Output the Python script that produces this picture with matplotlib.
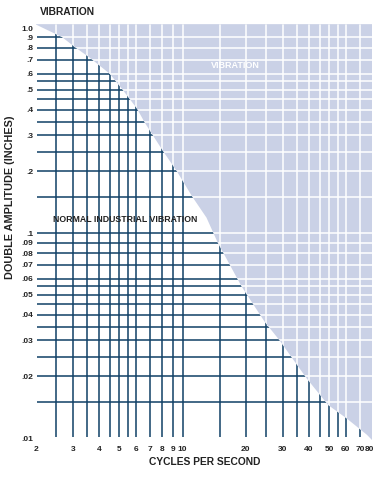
import matplotlib
matplotlib.use("Agg")
import matplotlib.pyplot as plt
from matplotlib.patches import Polygon
from matplotlib.transforms import offset_copy

plt.rcParams["font.family"] = ["Liberation Sans", "DejaVu Sans"]

NAVY = "#0f4066"
SHADE = "#cad1e6"
TEXT = "#222222"

# grid positions
x_grid = [2.5, 3, 3.5, 4, 4.5, 5, 5.5, 6, 7, 8, 9, 10, 15, 20, 25, 30, 35, 40, 45, 50, 55, 60, 70]
y_grid = [0.9, 0.8, 0.7, 0.6, 0.55, 0.5, 0.45, 0.4, 0.35, 0.3, 0.25, 0.2, 0.15,
          0.1, 0.09, 0.08, 0.07, 0.06, 0.055, 0.05, 0.045, 0.04, 0.035, 0.03, 0.025, 0.02, 0.015]

x_ticks = [2, 3, 4, 5, 6, 7, 8, 9, 10, 20, 30, 40, 50, 60, 70, 80]
x_ticklabels = ["2", "3", "4", "5", "6", "7", "8", "9", "10", "20", "30", "40", "50", "60", "70", "80"]
y_ticks = [1.0, 0.9, 0.8, 0.7, 0.6, 0.5, 0.4, 0.3, 0.2, 0.1, 0.09, 0.08, 0.07, 0.06, 0.05, 0.04, 0.03, 0.02, 0.01]
y_ticklabels = ["1.0", ".9", ".8", ".7", ".6", ".5", ".4", ".3", ".2", ".1", ".09", ".08", ".07", ".06",
                ".05", ".04", ".03", ".02", ".01"]

# boundary between normal and vibration zone
limit_freq = [2.0, 2.66, 3.06, 3.62, 4.5, 5.18, 6.06, 6.6, 8.03, 9.4, 11.1, 13.0, 14.7, 19.1,
              24.6, 29.0, 39.0, 49.5, 60.5, 75.6, 80.0]
limit_amp = [1.04, 0.904, 0.809, 0.715, 0.598, 0.50, 0.405, 0.346, 0.253, 0.200, 0.151, 0.119,
             0.090, 0.055, 0.037, 0.030, 0.0196, 0.0145, 0.0125, 0.0104, 0.0098]

XMIN, XMAX = 2, 80
YMIN, YMAX = 0.0098, 1.045

fig = plt.figure(figsize=(3.75, 4.83), dpi=100)
ax = fig.add_axes([0.096, 0.089, 0.896, 0.861])
ax.set_xscale("log")
ax.set_yscale("log")
ax.set_xlim(XMIN, XMAX)
ax.set_ylim(YMIN, YMAX)

# navy grid everywhere
ax.vlines(x_grid, 0.0101, YMAX, color=NAVY, lw=1.1, zorder=1)
ax.hlines(y_grid, XMIN * 1.01, XMAX, color=NAVY, lw=1.1, zorder=1)

# shaded vibration zone
verts = list(zip(limit_freq, limit_amp)) + [(XMAX, YMAX), (XMIN, YMAX)]
zone = Polygon(verts, closed=True, facecolor=SHADE, edgecolor="none", zorder=2)
ax.add_patch(zone)

# white grid inside the zone
vw = ax.vlines(x_grid, YMIN, YMAX, color="white", lw=1.1, zorder=3)
hw = ax.hlines(y_grid, XMIN, XMAX, color="white", lw=1.1, zorder=3)
vw.set_clip_path(zone)
hw.set_clip_path(zone)

for s in ax.spines.values():
    s.set_visible(False)
ax.minorticks_off()
ax.set_xticks(x_ticks)
ax.set_xticklabels(x_ticklabels)
ax.set_yticks(y_ticks)
ax.set_yticklabels(y_ticklabels)
ax.tick_params(length=0, labelsize=6, colors=TEXT, pad=2)
ax.tick_params(axis="x", pad=4)
for t in ax.get_xticklabels() + ax.get_yticklabels():
    t.set_fontweight("bold")
# last x label sits at the very edge, nudge it in
last = ax.get_xticklabels()[-1]
last.set_transform(offset_copy(last.get_transform(), fig=fig, x=-3, y=0, units="dots"))

ax.set_xlabel("CYCLES PER SECOND", fontsize=7.4, fontweight="bold", color=TEXT)
ax.xaxis.set_label_coords((205 - 36) / 336, -(462 - 440) / 416)
ax.set_ylabel("DOUBLE AMPLITUDE (INCHES)", fontsize=7.8, fontweight="bold", color=TEXT)
ax.yaxis.set_label_coords((10 - 36) / 336, (440 - 197) / 416)
ax.xaxis.label.set_va("center")
ax.yaxis.label.set_va("center")

fig.text(67 / 375, 1 - 12 / 483, "VIBRATION", ha="center", va="center",
         fontsize=7.4, fontweight="bold", color=TEXT)
fig.text(235 / 375, 1 - 65 / 483, "VIBRATION", ha="center", va="center",
         fontsize=6.5, fontweight="bold", color="white", zorder=5)
fig.text(125 / 375, 1 - 219 / 483, "NORMAL INDUSTRIAL VIBRATION", ha="center", va="center",
         fontsize=6.3, fontweight="bold", color=TEXT, zorder=5)

fig.savefig("out.png", dpi=100)
